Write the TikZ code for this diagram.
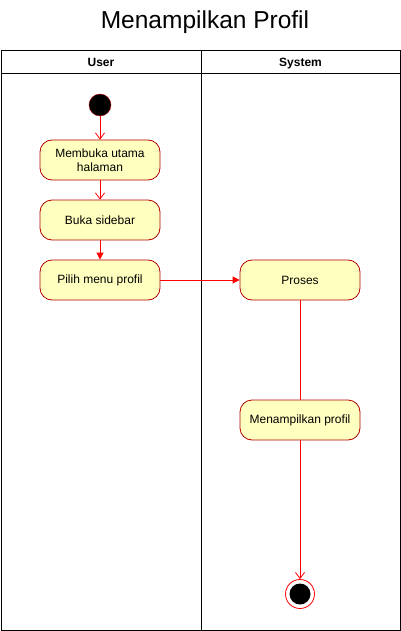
\documentclass[tikz,border=0pt]{standalone}
\usepackage{fontspec}
\setmainfont{Liberation Sans}
\usetikzlibrary{arrows.meta}
\definecolor{actfill}{HTML}{FFFFC0}
\definecolor{actline}{HTML}{B20000}
\definecolor{flow}{HTML}{FF0000}
\begin{document}
\begin{tikzpicture}[x=1pt,y=-1pt,
  act/.style={draw=actline,fill=actfill,rounded corners=12pt,minimum width=120pt,minimum height=40pt,align=center,font=\fontsize{12}{14}\selectfont,inner sep=2pt,line width=0.8pt},
  openflow/.style={draw=flow,line width=0.8pt,-{Straight Barb[length=6pt,width=9pt]}},
  fillflow/.style={draw=flow,line width=0.8pt,-{Triangle[length=7pt,width=7pt]}},
  plainflow/.style={draw=flow,line width=0.8pt},
  lanehead/.style={font=\bfseries\fontsize{12}{14}\selectfont,anchor=base,inner sep=0pt}]
\useasboundingbox (0,0) rectangle (401,631);
\fill[white] (0,0) rectangle (401,631);
% title
\node[font=\fontsize{24.5}{28}\selectfont] (title) at (205,22) {Menampilkan Profil};
% swimlanes
\draw[black,line width=0.9pt] (1,50) rectangle (400,630);
\draw[black,line width=0.9pt] (1,73) -- (400,73);
\draw[black,line width=0.9pt] (201,50) -- (201,630);
\node[lanehead] (user) at (101,66.5) {User};
\node[lanehead] (system) at (300.5,66.5) {System};
% nodes
\node[circle,fill=black,draw=actline,minimum size=22pt,inner sep=0pt] (start) at (100,105) {};
\node[act] (a1) at (100,160) {Membuka utama\\halaman};
\node[act] (a2) at (100,220) {Buka sidebar};
\node[act] (a3) at (100,280) {Pilih menu profil};
\node[act] (p1) at (300,280) {Proses};
\node[act] (p2) at (300,420) {Menampilkan profil};
\node[circle,draw=flow,fill=white,line width=0.8pt,minimum size=29pt,inner sep=0pt] (end) at (300,594) {};
\node[circle,fill=black,minimum size=21pt,inner sep=0pt] (endin) at (end.center) {};
% connectors
\draw[openflow] (start) -- (a1);
\draw[openflow] (a1) -- (a2);
\draw[fillflow] (a2) -- (a3);
\draw[fillflow] (a3) -- (p1);
\draw[plainflow] (p1) -- (p2);
\draw[openflow] (p2) -- (end);
\end{tikzpicture}
\end{document}
